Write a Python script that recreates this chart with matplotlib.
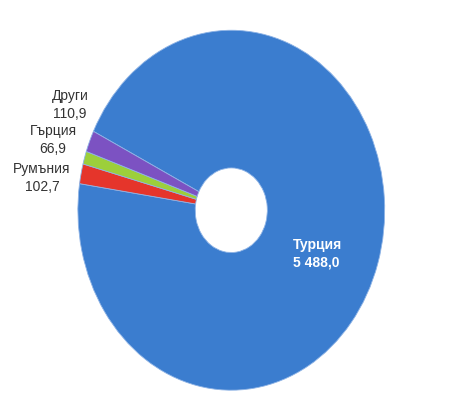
import matplotlib.pyplot as plt

# данни
countries = ["Турция", "Румъния", "Гърция", "Други"]
values = [5488.0, 102.7, 66.9, 110.9]
value_labels = ["5 488,0", "102,7", "66,9", "110,9"]
colors = ["#3b7dcf", "#e5352b", "#9ccf3b", "#7c52c2"]

plt.rcParams["font.family"] = ["Liberation Sans Narrow", "Liberation Sans", "DejaVu Sans"]

fig = plt.figure(figsize=(4.72, 4.09), dpi=100)
ax = fig.add_axes([0.165, 0.046, 0.650, 0.880])

wedges, _ = ax.pie(values, colors=colors, startangle=154, counterclock=False,
                   radius=1.0,
                   wedgeprops=dict(width=0.765, edgecolor="#8fb4e6", linewidth=0.6))
ax.set_aspect("auto")
ax.set_xlim(-1.0, 1.0)
ax.set_ylim(-1.0, 1.0)
ax.axis("off")

# подписи (позиции в пиксели от горния ляв ъгъл)
W, H = 472, 409
label_pos = {
    "Турция": (293, 254, "left", "white", "bold"),
    "Румъния": (42, 178, "center", "#333333", "normal"),
    "Гърция": (53, 140, "center", "#333333", "normal"),
    "Други": (70, 105, "center", "#333333", "normal"),
}
for name, lab in zip(countries, value_labels):
    x, y, ha, col, wt = label_pos[name]
    fig.text(x / W, 1 - y / H, f"{name}\n{lab}", ha=ha, va="center",
             color=col, fontsize=10, fontweight=wt, linespacing=1.3,
             multialignment=ha)

fig.savefig("out.png", dpi=100)
